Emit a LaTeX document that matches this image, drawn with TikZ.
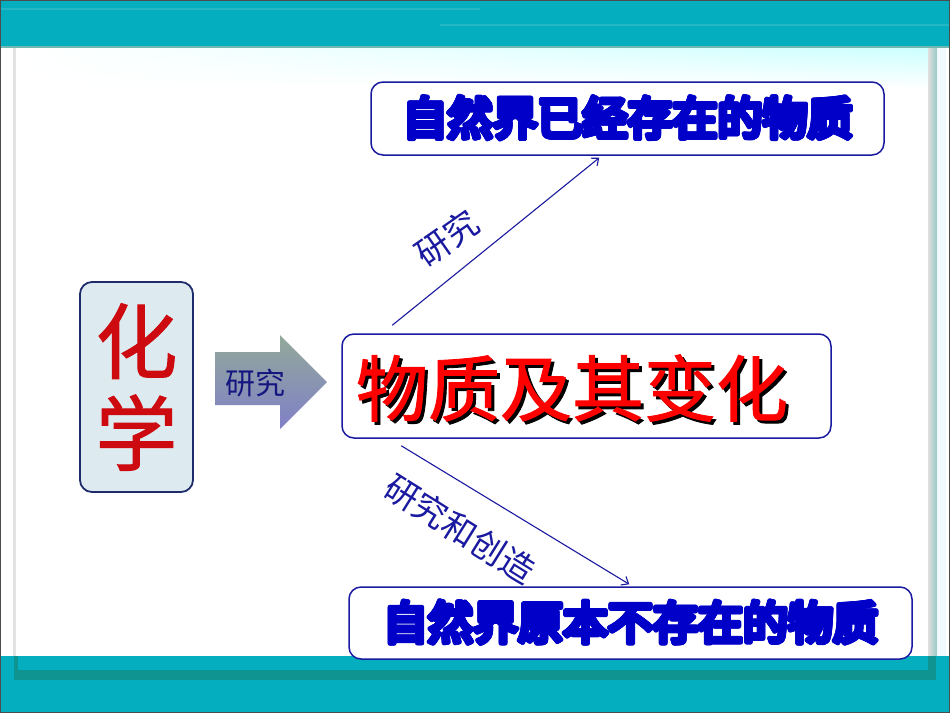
\documentclass[tikz,border=0pt]{standalone}
\usepackage{fontspec}
\usepackage{contour}
\contourlength{1.8pt}
\contournumber{16}
\newfontfamily\cjk{Noto Sans CJK SC}
\newfontfamily\cjkbold[FakeBold=1.2]{Noto Sans CJK SC}
\newfontfamily\cjkheavy[FakeBold=4]{Noto Sans CJK SC}
\usetikzlibrary{calc,arrows.meta,shadings}
\definecolor{bandteal}{HTML}{05AEBF}
\definecolor{darkteal}{HTML}{14897F}
\definecolor{boxnavy}{HTML}{1E2C6C}
\definecolor{boxfill}{HTML}{DDEBF0}
\definecolor{chemred}{HTML}{CC0A10}
\definecolor{linkblue}{HTML}{1A1AA0}
\definecolor{heavyblue}{HTML}{0000C8}
\definecolor{arrowtop}{HTML}{93A999}
\definecolor{arrowbot}{HTML}{8080C8}
\newcommand\heavyink[1]{\contour{heavyblue}{#1}}
\tikzset{
  roundbox/.style={draw=linkblue, line width=1.5pt, rounded corners=12pt, fill=white, inner sep=0pt},
  heavytext/.style={font=\cjkheavy\fontsize{45}{45}\selectfont, text=heavyblue},
  bigred/.style={font=\cjkbold\fontsize{72}{72}\selectfont, inner sep=0pt},
  link/.style={linkblue, line width=1.1pt, -{Straight Barb[length=6pt,width=10pt]}},
  linklabel/.style={font=\cjk\fontsize{34}{34}\selectfont, text=linkblue, inner sep=0pt},
}
\begin{document}
\begin{tikzpicture}[x=1pt,y=-1pt]
\useasboundingbox (0,0) rectangle (950,713);
% frame
\fill[white] (0,0) rectangle (950,713);
\fill[bandteal] (0,0) rectangle (950,47);
\fill[white,opacity=.12] (0,8) rectangle (480,10);
\fill[white,opacity=.12] (440,24) rectangle (950,26);
\fill[darkteal!60] (0,46) rectangle (950,48);
\shade[upper left=white, upper right=cyan!20, lower left=white, lower right=white] (17,48) rectangle (928,88);
\fill[gray!22] (13,48) rectangle (16,657);
\shade[left color=gray!25, right color=darkteal!45] (928,48) rectangle (937,657);
\fill[cyan!6] (937,48) rectangle (946,657);
\fill[bandteal] (0,656) rectangle (950,713);
\fill[darkteal,opacity=.7] (14,670) rectangle (936,680);
\fill[darkteal,opacity=.7] (14,656) rectangle (18,670);
\fill[darkteal,opacity=.7] (928,656) rectangle (936,670);
\draw[gray!60!black, line width=1pt] (0.5,0.5) rectangle (949.5,712.5);
% boxes
\node (chem) [draw=boxnavy, line width=1.8pt, fill=boxfill, rounded corners=12pt,
  minimum width=113pt, minimum height=210pt, inner sep=0pt, align=center,
  text=chemred, font=\cjkbold\fontsize{82}{92}\selectfont] at (136.5,387) {化\\学};
\node (mid) [roundbox, minimum width=489pt, minimum height=104pt] at (586.5,386) {};
\node (shadow) [bigred, text=black] at (575,391) {物质及其变化};
\node (title) [bigred, text=red] at (572,388) {物质及其变化};
\node (upper) [roundbox, minimum width=513pt, minimum height=73pt, heavytext] at (627.5,118.5) {\heavyink{自然界已经存在的物质}};
\node (lower) [roundbox, minimum width=563pt, minimum height=72pt, heavytext] at (630.5,623) {\heavyink{自然界原本不存在的物质}};
% fat arrow
\shade[top color=arrowtop, bottom color=arrowbot] (215,352) -- (280,352) -- (280,335) -- (327,382)
  -- (280,429) -- (280,405) -- (215,405) -- cycle;
\node (say) [font=\cjk\fontsize{30}{30}\selectfont, text=linkblue!80!black] at (255,383) {研究};
% connectors
\coordinate (upfrom) at ($(mid.north west)+(51,-8)$);
\coordinate (upto) at ($(upper.south west)+(229,2)$);
\coordinate (downfrom) at ($(mid.south west)+(60,7)$);
\coordinate (downto) at ($(lower.north west)+(281,-2)$);
\draw[link] (upfrom) -- (upto);
\draw[link] (downfrom) -- (downto);
\node (uplabel) [linklabel, rotate=35] at (447,238) {研究};
\node (downlabel) [linklabel, rotate=-32] at (460,529) {研究和创造};
\end{tikzpicture}
\end{document}
